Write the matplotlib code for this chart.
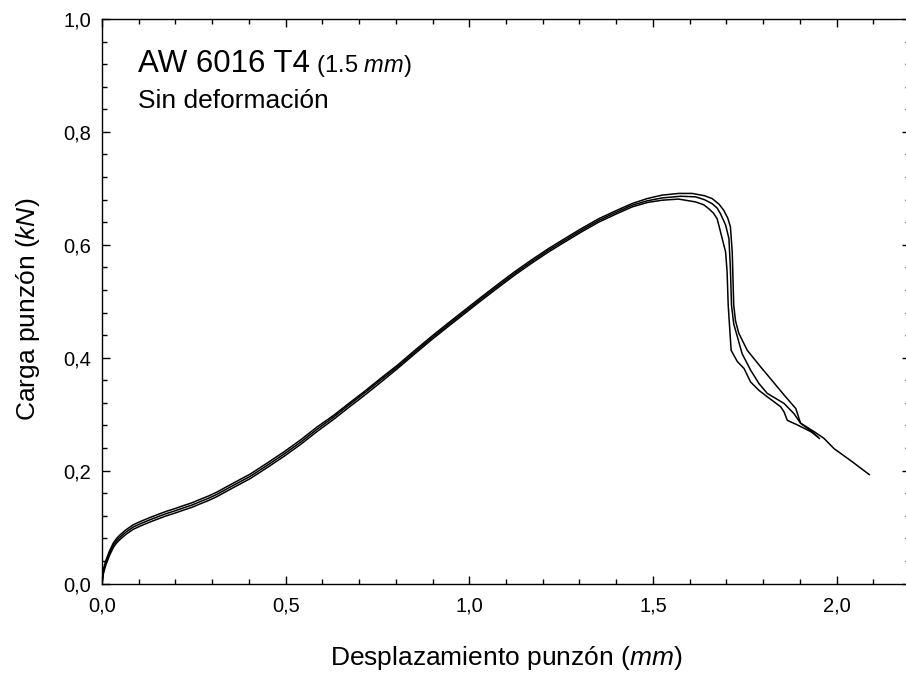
import matplotlib
matplotlib.use('Agg')
import matplotlib.pyplot as plt
from matplotlib.ticker import MultipleLocator, FuncFormatter

plt.rcParams['font.family'] = ['Liberation Sans', 'DejaVu Sans']
plt.rcParams['mathtext.fontset'] = 'custom'
plt.rcParams['mathtext.rm'] = 'Liberation Sans'
plt.rcParams['mathtext.it'] = 'Liberation Sans:italic'

# shared x of the rising part (mm)
x_rise = [0.0, 0.004, 0.010, 0.020, 0.031, 0.040, 0.049, 0.065, 0.085, 0.105,
          0.131, 0.155, 0.176, 0.200, 0.222, 0.245, 0.267, 0.290, 0.313, 0.358,
          0.404, 0.449, 0.495, 0.540, 0.585, 0.631, 0.672, 0.714, 0.760, 0.805,
          0.850, 0.896, 0.942, 0.987, 1.032, 1.078, 1.123, 1.169, 1.215, 1.260,
          1.306, 1.352, 1.398, 1.443, 1.485, 1.525]

# ensayo 1
y1_rise = [0.0, 0.018, 0.032, 0.049, 0.064, 0.072, 0.078, 0.087, 0.096, 0.102,
           0.109, 0.115, 0.120, 0.125, 0.130, 0.135, 0.141, 0.147, 0.154, 0.170,
           0.186, 0.205, 0.225, 0.246, 0.269, 0.291, 0.312, 0.333, 0.357, 0.381,
           0.406, 0.431, 0.455, 0.478, 0.501, 0.524, 0.546, 0.567, 0.587, 0.605,
           0.623, 0.640, 0.654, 0.667, 0.675, 0.679]
x1_end = [1.570, 1.616, 1.638, 1.652, 1.665, 1.675, 1.684, 1.698, 1.702, 1.705,
          1.713, 1.730, 1.748, 1.766, 1.789, 1.811, 1.848, 1.857, 1.866, 1.893,
          1.930, 1.948]
y1_end = [0.681, 0.676, 0.671, 0.664, 0.656, 0.646, 0.623, 0.587, 0.552, 0.493,
          0.413, 0.393, 0.381, 0.357, 0.342, 0.331, 0.313, 0.304, 0.289, 0.281,
          0.269, 0.260]

# ensayo 2
y2_rise = [0.0, 0.022, 0.036, 0.053, 0.068, 0.076, 0.082, 0.091, 0.100, 0.106,
           0.113, 0.119, 0.124, 0.129, 0.134, 0.139, 0.145, 0.151, 0.158, 0.174,
           0.190, 0.209, 0.229, 0.250, 0.273, 0.295, 0.316, 0.337, 0.361, 0.384,
           0.409, 0.434, 0.458, 0.481, 0.504, 0.527, 0.549, 0.570, 0.590, 0.608,
           0.626, 0.643, 0.657, 0.670, 0.678, 0.683]
x2_end = [1.575, 1.616, 1.640, 1.661, 1.675, 1.684, 1.698, 1.707, 1.711, 1.714,
          1.720, 1.730, 1.743, 1.766, 1.789, 1.811, 1.857, 1.884, 1.902, 1.939,
          1.953]
y2_end = [0.686, 0.685, 0.680, 0.673, 0.665, 0.655, 0.635, 0.611, 0.558, 0.493,
          0.460, 0.437, 0.407, 0.378, 0.354, 0.337, 0.319, 0.301, 0.284, 0.266,
          0.257]

# ensayo 3
y3_rise = [0.0, 0.026, 0.040, 0.057, 0.072, 0.080, 0.086, 0.095, 0.104, 0.110,
           0.117, 0.123, 0.128, 0.133, 0.138, 0.143, 0.149, 0.155, 0.162, 0.178,
           0.194, 0.213, 0.233, 0.254, 0.277, 0.298, 0.319, 0.340, 0.364, 0.387,
           0.412, 0.437, 0.461, 0.484, 0.507, 0.530, 0.552, 0.573, 0.593, 0.611,
           0.629, 0.646, 0.660, 0.673, 0.682, 0.688]
x3_end = [1.570, 1.607, 1.640, 1.661, 1.680, 1.693, 1.704, 1.711, 1.716, 1.720,
          1.725, 1.734, 1.757, 1.793, 1.820, 1.857, 1.889, 1.902, 1.939, 1.966,
          1.993, 2.040, 2.089]
y3_end = [0.691, 0.691, 0.687, 0.682, 0.672, 0.661, 0.647, 0.632, 0.587, 0.493,
          0.465, 0.443, 0.413, 0.384, 0.363, 0.334, 0.310, 0.284, 0.269, 0.257,
          0.239, 0.217, 0.193]

ensayos = [(x_rise + x1_end, y1_rise + y1_end),
           (x_rise + x2_end, y2_rise + y2_end),
           (x_rise + x3_end, y3_rise + y3_end)]

fig = plt.figure(figsize=(9.06, 6.73), dpi=100)
ax = fig.add_axes([102 / 906, 1 - 583.5 / 673, 808 / 906, 564.5 / 673])

for xs, ys in ensayos:
    ax.plot(xs, ys, color='black', lw=1.1)

ax.set_xlim(0, 2.2)
ax.set_ylim(0, 1.0)
ax.xaxis.set_major_locator(MultipleLocator(0.5))
ax.xaxis.set_minor_locator(MultipleLocator(0.1))
ax.yaxis.set_major_locator(MultipleLocator(0.2))
ax.yaxis.set_minor_locator(MultipleLocator(0.04))
coma = FuncFormatter(lambda v, p: f'{v:.1f}'.replace('.', ','))
ax.xaxis.set_major_formatter(coma)
ax.yaxis.set_major_formatter(coma)

ax.tick_params(which='both', direction='in', top=True, right=True, width=1.0)
ax.tick_params(which='major', length=6, labelsize=14.5)
ax.tick_params(which='minor', length=3.6)
ax.tick_params(axis='x', which='major', pad=9)
ax.tick_params(axis='y', which='major', pad=8)
for s in ax.spines.values():
    s.set_linewidth(1.0)

ax.set_xlabel(r'Desplazamiento punzón ($\mathit{mm}$)', fontsize=19, labelpad=21)
ax.set_ylabel(r'Carga punzón ($\mathit{kN}$)', fontsize=19)
ax.yaxis.set_label_coords(-0.074, 0.485)

t1 = ax.text(0.098, 0.906, 'AW 6016 T4', fontsize=22.5, va='baseline')
fig.canvas.draw()
bb = t1.get_window_extent(fig.canvas.get_renderer())
xe = ax.transData.inverted().transform((bb.x1, 0))[0]
ax.text(xe, 0.906, r' (1.5 $\mathit{mm}$)', fontsize=17, va='baseline')
ax.text(0.098, 0.843, 'Sin deformación', fontsize=19, va='baseline')

fig.savefig('out.png', dpi=100)
